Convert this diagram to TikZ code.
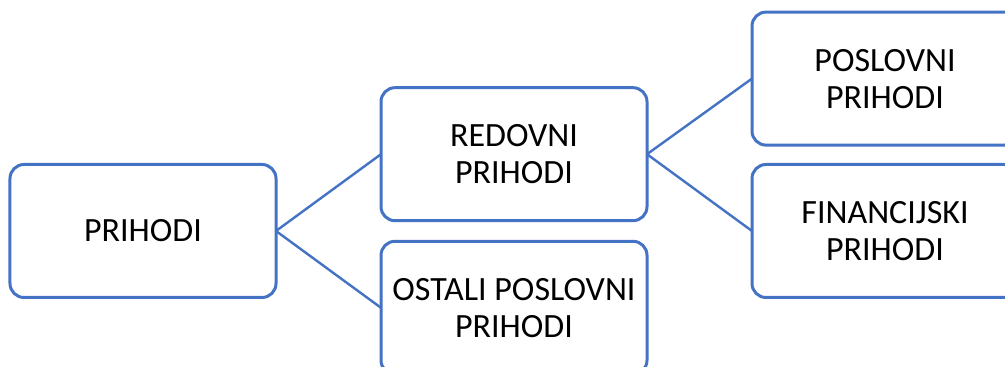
\documentclass[tikz,border=0pt]{standalone}
\usepackage{fontspec}
\setmainfont{Carlito}
\usepackage{tikz}
\usetikzlibrary{positioning}
\definecolor{rubplava}{RGB}{68,114,196}
\begin{document}
\begin{tikzpicture}[
                    okvir/.style={draw=rubplava, line width=1.5pt, rounded corners=7pt,
                        minimum width=133pt, minimum height=66.5pt, inner sep=2pt, outer sep=0pt,
                        align=center, font=\fontsize{17}{18.5}\selectfont},
                    veza/.style={draw=rubplava, line width=1.2pt},
                    node distance=52.5pt]
                    \useasboundingbox (-71.5pt,-68pt) rectangle (431pt,115.5pt);
                    \clip (-71.5pt,-68pt) rectangle (431pt,115.5pt);
                    \node[okvir] (prihodi) {PRIHODI};
                    \node[okvir, right=of prihodi, yshift=38.4pt] (redovni) {REDOVNI\\PRIHODI};
                    \node[okvir, right=of prihodi, yshift=-38.4pt] (ostali) {OSTALI POSLOVNI\\PRIHODI};
                    \node[okvir, right=of redovni, yshift=37.8pt] (poslovni) {POSLOVNI\\PRIHODI};
                    \node[okvir, right=of redovni, yshift=-38.4pt] (financijski) {FINANCIJSKI\\PRIHODI};
                    \draw[veza] (prihodi.east) -- (redovni.west);
                    \draw[veza] (prihodi.east) -- (ostali.west);
                    \draw[veza] (redovni.east) -- (poslovni.west);
                    \draw[veza] (redovni.east) -- (financijski.west);
                \end{tikzpicture}
\end{document}
